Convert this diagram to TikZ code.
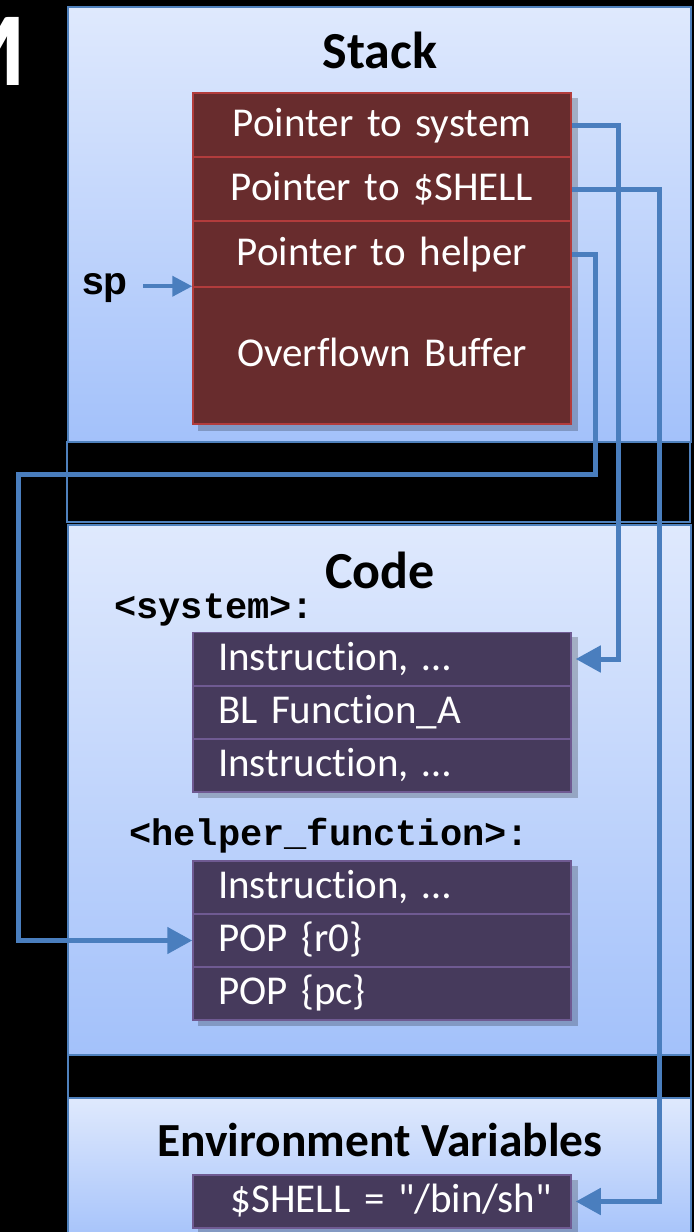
\documentclass[tikz,border=0pt]{standalone}
\usepackage{fontspec}
\setmainfont{Carlito}[Ligatures={TeXOff,CommonOff}]
\newfontfamily\codefont{Liberation Mono}
\newfontfamily\arialfont{Liberation Sans}
\usetikzlibrary{arrows.meta}

\definecolor{panelTop}{HTML}{DFE9FD}
\definecolor{panelBot}{HTML}{A3C1FA}
\definecolor{panelEdge}{HTML}{4F81BD}
\definecolor{stackFill}{HTML}{682C2D}
\definecolor{stackEdge}{HTML}{B23C3C}
\definecolor{codeFill}{HTML}{463A5C}
\definecolor{codeEdge}{HTML}{6F5A92}
\definecolor{linkBlue}{HTML}{4A7EBE}

\tikzset{
  panel/.style={top color=panelTop, bottom color=panelBot, draw=panelEdge, line width=1.5pt},
  gapband/.style={fill=black, draw=panelEdge, line width=1.2pt},
  title/.style={font=\bfseries\fontsize{52}{52}\selectfont, inner sep=0pt},
  boxshadow/.style={fill=black, opacity=0.22},
  stackrow/.style={fill=stackFill, draw=stackEdge, line width=1.5pt, text=white,
    minimum width=378pt, text width=350pt, inner xsep=0pt, align=center,
    font=\fontsize{41}{41}\selectfont, text height=29pt, text depth=7pt},
  coderow/.style={fill=codeFill, draw=codeEdge, line width=1.5pt, text=white,
    text width=328pt, inner xsep=25pt, align=left, minimum height=53pt,
    font=\fontsize{41}{41}\selectfont, text height=29pt, text depth=7pt},
  funclabel/.style={font=\codefont\bfseries\fontsize{37}{37}\selectfont, inner sep=0pt, anchor=west},
  link/.style={draw=linkBlue, line width=5pt, -{Triangle[length=25pt,width=26pt]}},
  splink/.style={draw=linkBlue, line width=4pt, -{Triangle[length=20pt,width=20pt]}}
}

\begin{document}
\begin{tikzpicture}[x=1pt,y=-1pt]
\useasboundingbox (0,0) rectangle (694,1232);
\fill[black] (0,0) rectangle (694,1232);
\node[anchor=east, inner sep=0pt, text=white, font=\bfseries\fontsize{105}{105}\selectfont] (segM) at (26,51) {M};
% memory segments, top to bottom
\draw[panel] (68,7) rectangle (691,442);
\draw[gapband] (67,442) rectangle (690,522);
\draw[panel] (68,525) rectangle (691,1055);
\draw[gapband] (68,1055) rectangle (691,1098);
\draw[panel] (68,1098) rectangle (691,1245);
\node[title] (stackT) at (380,50) {Stack};
\node[title] (codeT) at (380,570) {Code};
\node[title, font=\bfseries\fontsize{47.5}{47.5}\selectfont] (envT) at (380,1140) {Environment Variables};
% soft shadows behind the boxes
\fill[boxshadow] (198,98) rectangle (578,431);
\fill[boxshadow] (198,637) rectangle (578,798);
\fill[boxshadow] (198,866) rectangle (578,1026);
\fill[boxshadow] (198,1180) rectangle (578,1234);
% stack frame
\node[stackrow, minimum height=64pt] (ptrSys) at (382,125) {Pointer to system};
\node[stackrow, minimum height=64pt] (ptrShell) at (382,189) {Pointer to \$SHELL};
\node[stackrow, minimum height=66pt] (ptrHelp) at (382,254) {Pointer to helper};
\node[stackrow, minimum height=137pt] (buf) at (382,355.5) {Overflown Buffer};
\node[anchor=base east, inner sep=0pt, font=\arialfont\bfseries\fontsize{39}{39}\selectfont] (sp) at (128,294) {sp};
% code
\node[funclabel] (sysL) at (114,610) {<system>:};
\node[coderow] (insA) at (382,659) {Instruction, …};
\node[coderow] (blA) at (382,712.5) {BL Function\_A};
\node[coderow] (insB) at (382,765.5) {Instruction, …};
\node[funclabel] (helpL) at (129,836) {<helper\_function>:};
\node[coderow] (insC) at (382,887.5) {Instruction, …};
\node[coderow] (popR) at (382,940.5) {POP \{r0\}};
\node[coderow] (popPC) at (382,993.5) {POP \{pc\}};
% environment
\node[coderow, inner xsep=19pt, text width=340pt, align=right] (shellVal) at (382,1201.5) {\$SHELL = "/bin/sh"};
% pointers
\coordinate (helpTop) at (595,474);
\coordinate (helpLeft) at (18,474);
\draw[splink] (sp.east |- buf.north west) ++(15,0) -- (buf.north west);
\draw[link, shorten >=4pt] (ptrSys.east) -- ++(47,0) |- (insA.east);
\draw[link, shorten >=4pt] (ptrShell.east) -- ++(88,0) |- (shellVal.east);
\draw[link] (ptrHelp.east) -| (helpTop) -- (helpLeft) |- (popR.west);
\end{tikzpicture}
\end{document}
